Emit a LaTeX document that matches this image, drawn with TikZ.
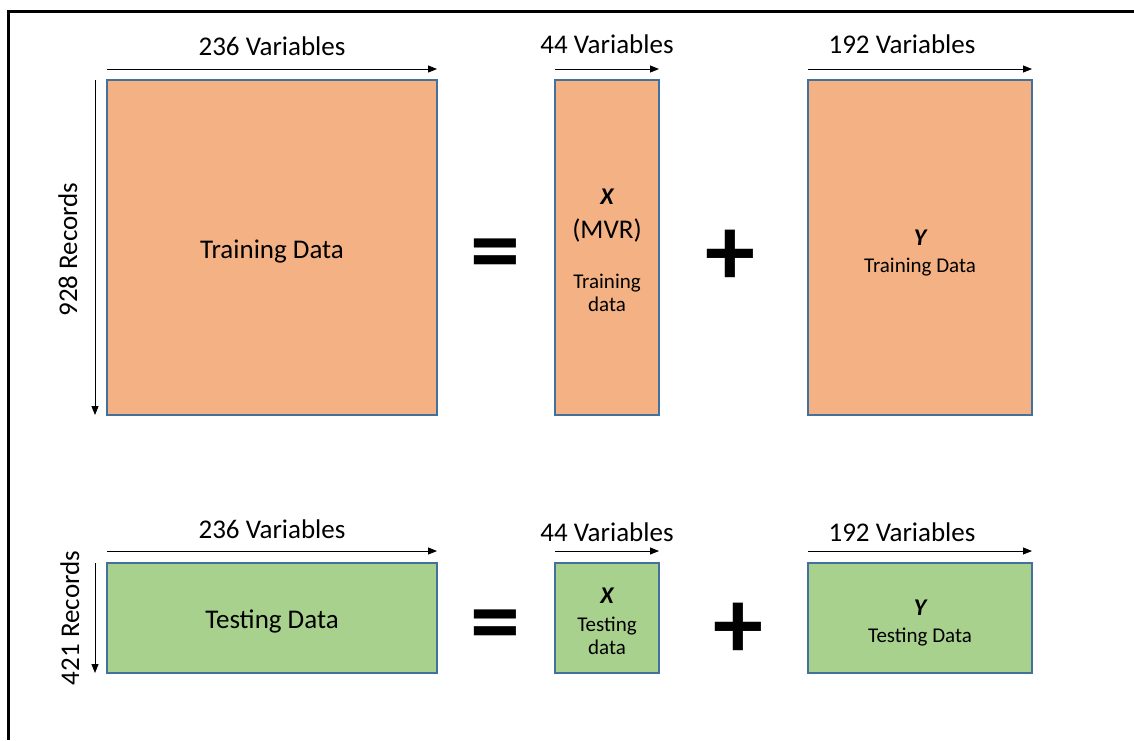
\documentclass[tikz,border=0pt]{standalone}
\usepackage{fontspec}
\setmainfont{Carlito}
\usetikzlibrary{arrows.meta}
\definecolor{trainfill}{HTML}{F4B183}
\definecolor{testfill}{HTML}{A9D18E}
\definecolor{boxline}{HTML}{41719C}
\tikzset{
  databox/.style={draw=boxline, line width=1.2pt, inner sep=0pt, outer sep=0pt, anchor=north west},
  trainbox/.style={databox, fill=trainfill},
  testbox/.style={databox, fill=testfill},
  dimarrow/.style={draw=black, line width=0.9pt, -{Triangle[length=9pt,width=7pt]}},
  lbl/.style={inner sep=0pt, anchor=base, text=black},
  bigtxt/.style={lbl, font=\fontsize{27}{32}\selectfont},
  smalltxt/.style={lbl, font=\fontsize{21}{25}\selectfont},
  vartxt/.style={lbl, font=\fontsize{24}{28}\selectfont\bfseries\itshape},
  optxt/.style={inner sep=0pt, anchor=center, font=\fontsize{100}{100}\selectfont\bfseries},
}
\begin{document}
\begin{tikzpicture}[x=1pt, y=-1pt]
\useasboundingbox (0,0) rectangle (1134,740);
\fill[white] (0,0) rectangle (1134,740);
% outer frame (left and top edges)
\draw[line width=3pt] (8.5,740) |- (1134,11);

% ---- training set ----
\node[trainbox, minimum width=330pt, minimum height=335pt] (train) at (107,80) {};
\node[trainbox, minimum width=104pt, minimum height=335pt] (xtrain) at (555,80) {};
\node[trainbox, minimum width=224pt, minimum height=335pt] (ytrain) at (808,80) {};

\draw[dimarrow] ([yshift=11pt]train.north west) -- ([yshift=11pt]train.north east);
\draw[dimarrow] ([yshift=11pt]xtrain.north west) -- ([yshift=11pt]xtrain.north east);
\draw[dimarrow] ([yshift=11pt]ytrain.north west) -- ([yshift=11pt]ytrain.north east);
\draw[dimarrow] ([xshift=-12pt]train.north west) -- ([xshift=-12pt]train.south west);

\node[bigtxt] (trvars) at (272,55) {236 Variables};
\node[bigtxt] (xtrvars) at (607,53) {44 Variables};
\node[bigtxt] (ytrvars) at (902,53) {192 Variables};
\node[bigtxt, rotate=90] (trrec) at (77,249.5) {928 Records};

\node[bigtxt] (trtext) at (272,258) {Training Data};
\node[vartxt] (xtrsym) at (607,204) {X};
\node[bigtxt] (xtrmvr) at (607,238) {(MVR)};
\node[smalltxt] (xtrt1) at (607,288) {Training};
\node[smalltxt] (xtrt2) at (607,311) {data};
\node[vartxt] (ytrsym) at (920,245) {Y};
\node[smalltxt] (ytrt) at (920,272) {Training Data};

\node[optxt] (treq) at (495,261) {=};
\node[optxt] (trplus) at (730,258) {+};

% ---- testing set ----
\node[testbox, minimum width=330pt, minimum height=110pt] (test) at (107,563) {};
\node[testbox, minimum width=104pt, minimum height=110pt] (xtest) at (555,563) {};
\node[testbox, minimum width=224pt, minimum height=110pt] (ytest) at (808,563) {};

\draw[dimarrow] ([yshift=12pt]test.north west) -- ([yshift=12pt]test.north east);
\draw[dimarrow] ([yshift=12pt]xtest.north west) -- ([yshift=12pt]xtest.north east);
\draw[dimarrow] ([yshift=12pt]ytest.north west) -- ([yshift=12pt]ytest.north east);
\draw[dimarrow] ([xshift=-12pt]test.north west) -- ([xshift=-12pt]test.south west);

\node[bigtxt] (tevars) at (272,538) {236 Variables};
\node[bigtxt] (xtevars) at (607,541) {44 Variables};
\node[bigtxt] (ytevars) at (902,541) {192 Variables};
\node[bigtxt, rotate=90] (terec) at (79,618) {421 Records};

\node[bigtxt] (tetext) at (272,628) {Testing Data};
\node[vartxt] (xtesym) at (607,603) {X};
\node[smalltxt] (xtet1) at (607,631) {Testing};
\node[smalltxt] (xtet2) at (607,654) {data};
\node[vartxt] (ytesym) at (920,615) {Y};
\node[smalltxt] (ytet) at (920,642) {Testing Data};

\node[optxt] (teeq) at (495,632) {=};
\node[optxt] (teplus) at (738,631) {+};
\end{tikzpicture}
\end{document}
